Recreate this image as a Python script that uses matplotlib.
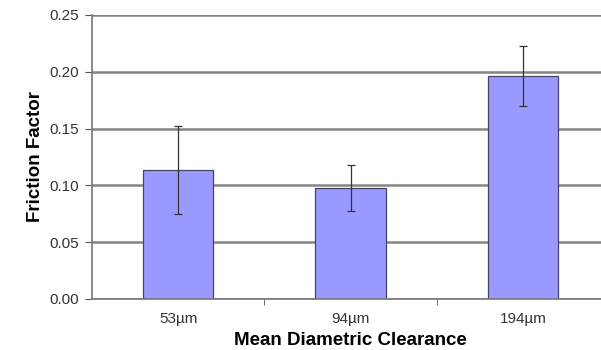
import matplotlib
matplotlib.use("Agg")
import matplotlib.pyplot as plt
import numpy as np

plt.rcParams['font.family'] = ['Liberation Sans', 'DejaVu Sans']

categories = ["53\u00b5m", "94\u00b5m", "194\u00b5m"]
friction = [0.1136, 0.0977, 0.1963]
errors = [0.0387, 0.0200, 0.0268]
yticks = [0.00, 0.05, 0.10, 0.15, 0.20, 0.25]

fig = plt.figure(figsize=(6.01, 3.50), dpi=100)
ax = fig.add_axes([92/601, 1-299/350, 517/601, 284/350])

x = np.arange(len(categories))
ax.set_axisbelow(True)
ax.yaxis.grid(True, color='#858585', linewidth=1.8)
ax.bar(x, friction, width=0.41, color='#9999FF', edgecolor='#444466', linewidth=0.9, zorder=2)
ax.errorbar(x, friction, yerr=errors, fmt='none', ecolor='#333333', elinewidth=0.9,
            capsize=3, capthick=0.9, zorder=3)

ax.set_xlim(-0.5, 2.5)
ax.set_ylim(0, 0.25)
ax.set_yticks(yticks)
ax.set_yticklabels([f"{v:.2f}" for v in yticks], fontsize=11, color='#333333')
ax.set_xticks(x)
ax.set_xticklabels(categories, fontsize=11, color='#333333')
ax.set_xticks([0.5, 1.5], minor=True)
ax.tick_params(axis='x', which='major', length=0, pad=9)
ax.tick_params(axis='x', which='minor', length=4, color='#555555', direction='out')
ax.tick_params(axis='y', length=5, color='#555555', direction='out', pad=4)

for s in ['top', 'right']:
    ax.spines[s].set_visible(False)
for s in ['left', 'bottom']:
    ax.spines[s].set_color('#777777')
    ax.spines[s].set_linewidth(1.2)

ax.set_ylabel("Friction Factor", fontsize=13.5, fontweight='bold', labelpad=4)
ax.set_xlabel("Mean Diametric Clearance", fontsize=13.5, fontweight='bold', labelpad=5)

fig.savefig("out.png", dpi=100)
